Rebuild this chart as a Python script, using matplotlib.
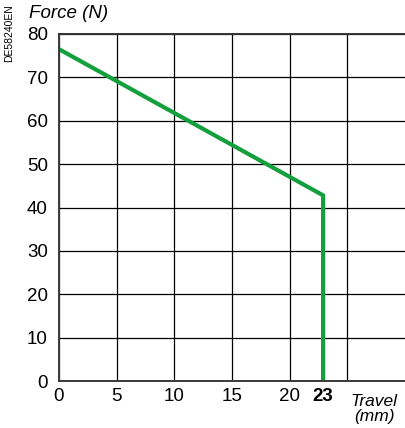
import matplotlib
matplotlib.use("Agg")
import matplotlib.pyplot as plt

# force / travel curve
travel = [0, 22.9, 22.9]
force = [76.5, 42.8, 0]
x_ticks = [0, 5, 10, 15, 20, 25]
x_labels = ['0', '5', '10', '15', '20', '']
y_ticks = [0, 10, 20, 30, 40, 50, 60, 70, 80]
end_travel = 22.9
end_label = '23'

plt.rcParams['font.family'] = ['Liberation Sans', 'DejaVu Sans']

fig = plt.figure(figsize=(4.05, 4.28), dpi=100)
ax = fig.add_axes([59 / 405, 47 / 428, 1 - 59 / 405, (381 - 34) / 428])

ax.plot(travel, force, color='#13a03c', lw=3, solid_joinstyle='miter', zorder=3)

ax.set_xlim(0, 30)
ax.set_ylim(0, 80)
ax.set_xticks(x_ticks)
ax.set_xticklabels(x_labels)
ax.set_yticks(y_ticks)
ax.set_xticks([end_travel], minor=True)
ax.set_xticklabels([end_label], minor=True, fontweight='bold')

ax.grid(True, which='major', color='black', lw=0.9)
ax.tick_params(which='both', length=0, labelsize=13.5, colors='black')
ax.tick_params(axis='y', pad=8)
ax.tick_params(axis='x', which='both', pad=5)

for s in ['top', 'right']:
    ax.spines[s].set_visible(False)
for s in ['left', 'bottom']:
    ax.spines[s].set_color('#3a3a3a')
    ax.spines[s].set_linewidth(1.4)
    ax.spines[s].set_zorder(4)

# border line at 80
ax.axhline(80, color='#333333', lw=1.4, clip_on=False)

fig.text(29 / 405, 1 - 14 / 428, 'Force (N)', fontsize=13.5, style='italic',
         ha='left', va='center')
fig.text(374 / 405, 1 - 409 / 428, 'Travel\n(mm)', fontsize=12.5, style='italic',
         ha='center', va='center', linespacing=0.95)
fig.text(9 / 405, 1 - 33 / 428, 'DE58240EN', fontsize=7.5, rotation=90,
         ha='center', va='center')

fig.savefig('out.png', dpi=100)
